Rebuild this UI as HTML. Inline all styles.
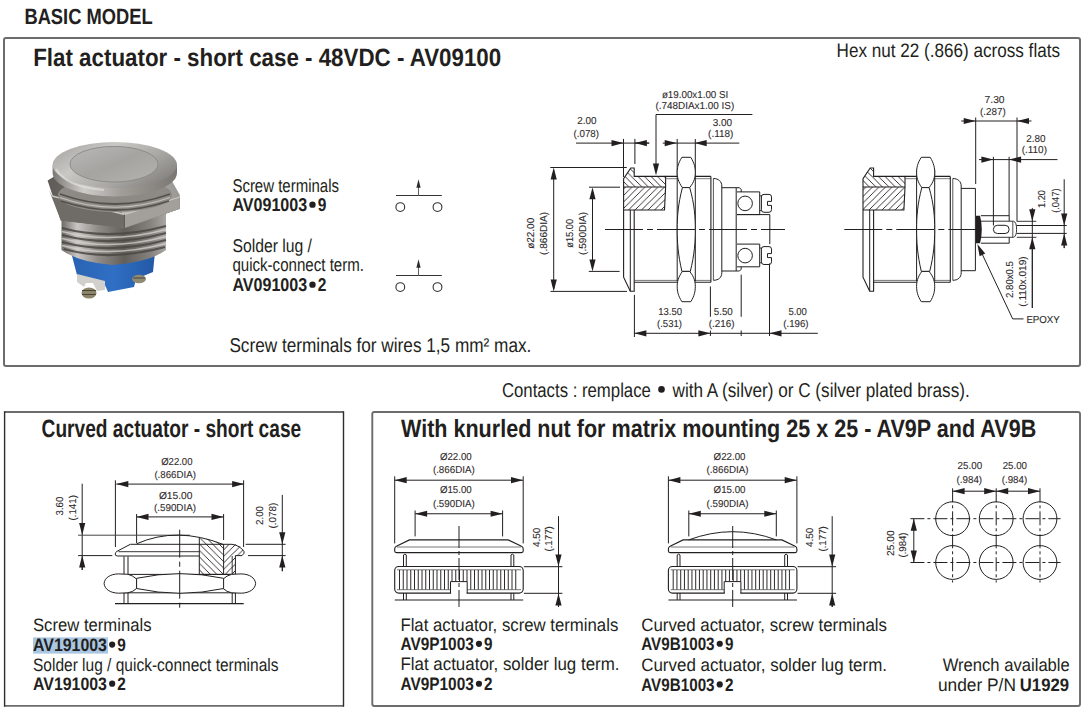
<!DOCTYPE html>
<html><head><meta charset="utf-8">
<style>
html,body{margin:0;padding:0;background:#fff;}
body{width:1084px;height:713px;overflow:hidden;position:relative;}
svg{position:absolute;left:0;top:0;}
text{text-rendering:geometricPrecision;}
.t{font-family:"Liberation Sans",sans-serif;fill:#231f20;}
.d{font-family:"Liberation Sans",sans-serif;fill:#2f2b2c;stroke:#2f2b2c;stroke-width:0.1px;}
</style></head><body>
<svg width="1084" height="713" viewBox="0 0 1084 713">
<defs>
<pattern id="hu" patternUnits="userSpaceOnUse" width="6.5" height="6.5"><path d="M-1,1 L1,-1 M0,6.5 L6.5,0 M5.5,7.5 L7.5,5.5" stroke="#231f20" stroke-width="0.9"/></pattern>
<pattern id="hd" patternUnits="userSpaceOnUse" width="6.5" height="6.5"><path d="M-1,5.5 L1,7.5 M0,0 L6.5,6.5 M5.5,-1 L7.5,1" stroke="#231f20" stroke-width="0.9"/></pattern>
<linearGradient id="metal" x1="0" y1="0" x2="1" y2="0">
<stop offset="0" stop-color="#6f6f6f"/><stop offset="0.25" stop-color="#a9a9a9"/><stop offset="0.5" stop-color="#c9c9c9"/><stop offset="0.75" stop-color="#8d8d8d"/><stop offset="1" stop-color="#6a6a6a"/>
</linearGradient>
<linearGradient id="capg" x1="0" y1="0" x2="1" y2="1">
<stop offset="0" stop-color="#c5c5c5"/><stop offset="0.5" stop-color="#a2a2a2"/><stop offset="1" stop-color="#8a8a8a"/>
</linearGradient>
<linearGradient id="blue" x1="0" y1="0" x2="1" y2="0">
<stop offset="0" stop-color="#2e5f9e"/><stop offset="0.5" stop-color="#3a78c2"/><stop offset="1" stop-color="#2a5794"/>
</linearGradient>
</defs>

<rect x="4" y="38" width="1076" height="328" rx="2" fill="none" stroke="#6d6b6c" stroke-width="2"/>
<path d="M4.6,412 L343.5,412 M4.6,705.9 L343.5,705.9" stroke="#6d6b6c" stroke-width="1.9" fill="none"/>
<path d="M4.6,411.2 L4.6,706.7 M343.5,411.2 L343.5,706.7" stroke="#2e2c2d" stroke-width="1.4" fill="none"/>
<rect x="372.3" y="412" width="707.7" height="294" rx="2" fill="none" stroke="#6d6b6c" stroke-width="1.9"/>
<text class="t" x="24.4" y="23.5" font-size="22" textLength="128.3" lengthAdjust="spacingAndGlyphs" font-weight="bold">BASIC MODEL</text>
<text class="t" x="33.2" y="65.7" font-size="25" textLength="468" lengthAdjust="spacingAndGlyphs" font-weight="bold">Flat actuator - short case - 48VDC - AV09100</text>
<text class="t" x="836.6" y="56.7" font-size="19.5" textLength="223.4" lengthAdjust="spacingAndGlyphs">Hex nut 22 (.866) across flats</text>
<text class="t" x="232.4" y="191.6" font-size="18.5" textLength="106.6" lengthAdjust="spacingAndGlyphs">Screw terminals</text>
<text class="t" x="232.4" y="211.4" font-size="18.5" textLength="74.82" lengthAdjust="spacingAndGlyphs" font-weight="bold">AV091003</text>
<circle cx="312.49" cy="204.65" r="3.18" fill="#231f20"/>
<text class="t" x="317.75" y="211.4" font-size="18.5" textLength="8.65" lengthAdjust="spacingAndGlyphs" font-weight="bold">9</text>
<text class="t" x="232.4" y="251.7" font-size="18.5" textLength="79.6" lengthAdjust="spacingAndGlyphs">Solder lug /</text>
<text class="t" x="232.4" y="271.4" font-size="18.5" textLength="131.6" lengthAdjust="spacingAndGlyphs">quick-connect term.</text>
<text class="t" x="232.4" y="291.4" font-size="18.5" textLength="74.82" lengthAdjust="spacingAndGlyphs" font-weight="bold">AV091003</text>
<circle cx="312.49" cy="284.65" r="3.18" fill="#231f20"/>
<text class="t" x="317.75" y="291.4" font-size="18.5" textLength="8.65" lengthAdjust="spacingAndGlyphs" font-weight="bold">2</text>
<text class="t" x="229.4" y="352.2" font-size="20" textLength="302" lengthAdjust="spacingAndGlyphs">Screw terminals for wires 1,5 mm² max.</text>
<text class="t" x="501.9" y="396.6" font-size="20" textLength="149" lengthAdjust="spacingAndGlyphs">Contacts : remplace</text>
<circle cx="661.5" cy="389.4" r="3.3" fill="#231f20"/>
<text class="t" x="672.5" y="396.6" font-size="20" textLength="297.2" lengthAdjust="spacingAndGlyphs">with A (silver) or C (silver plated brass).</text>
<text class="t" x="41.6" y="436.6" font-size="25" textLength="259.6" lengthAdjust="spacingAndGlyphs" font-weight="bold">Curved actuator - short case</text>
<text class="t" x="401" y="436.7" font-size="25" textLength="635.2" lengthAdjust="spacingAndGlyphs" font-weight="bold">With knurled nut for matrix mounting 25 x 25 - AV9P and AV9B</text>
<rect x="33" y="637.4" width="75" height="16.2" fill="#a9c6e2"/>
<text class="t" x="33" y="631.2" font-size="18" textLength="118.5" lengthAdjust="spacingAndGlyphs">Screw terminals</text>
<text class="t" x="33" y="651.1" font-size="18" textLength="73.95" lengthAdjust="spacingAndGlyphs" font-weight="bold">AV191003</text>
<circle cx="112.15" cy="644.54" r="3.10" fill="#231f20"/>
<text class="t" x="117.35" y="651.1" font-size="18" textLength="8.55" lengthAdjust="spacingAndGlyphs" font-weight="bold">9</text>
<text class="t" x="33" y="671" font-size="18" textLength="245.5" lengthAdjust="spacingAndGlyphs">Solder lug / quick-connect terminals</text>
<text class="t" x="33" y="690.2" font-size="18" textLength="73.95" lengthAdjust="spacingAndGlyphs" font-weight="bold">AV191003</text>
<circle cx="112.15" cy="683.64" r="3.10" fill="#231f20"/>
<text class="t" x="117.35" y="690.2" font-size="18" textLength="8.55" lengthAdjust="spacingAndGlyphs" font-weight="bold">2</text>
<text class="t" x="400.4" y="631.2" font-size="18" textLength="217.9" lengthAdjust="spacingAndGlyphs">Flat actuator, screw terminals</text>
<text class="t" x="400.4" y="650.4" font-size="18" textLength="73.39" lengthAdjust="spacingAndGlyphs" font-weight="bold">AV9P1003</text>
<circle cx="478.95" cy="643.84" r="3.10" fill="#231f20"/>
<text class="t" x="484.12" y="650.4" font-size="18" textLength="8.48" lengthAdjust="spacingAndGlyphs" font-weight="bold">9</text>
<text class="t" x="400.4" y="670.4" font-size="18" textLength="219.1" lengthAdjust="spacingAndGlyphs">Flat actuator, solder lug term.</text>
<text class="t" x="400.4" y="690.3" font-size="18" textLength="73.39" lengthAdjust="spacingAndGlyphs" font-weight="bold">AV9P1003</text>
<circle cx="478.95" cy="683.74" r="3.10" fill="#231f20"/>
<text class="t" x="484.12" y="690.3" font-size="18" textLength="8.48" lengthAdjust="spacingAndGlyphs" font-weight="bold">2</text>
<text class="t" x="641.2" y="631.2" font-size="18" textLength="245.8" lengthAdjust="spacingAndGlyphs">Curved actuator, screw terminals</text>
<text class="t" x="641.2" y="650.3" font-size="18" textLength="73.39" lengthAdjust="spacingAndGlyphs" font-weight="bold">AV9B1003</text>
<circle cx="719.75" cy="643.74" r="3.10" fill="#231f20"/>
<text class="t" x="724.92" y="650.3" font-size="18" textLength="8.48" lengthAdjust="spacingAndGlyphs" font-weight="bold">9</text>
<text class="t" x="641.2" y="671" font-size="18" textLength="245.8" lengthAdjust="spacingAndGlyphs">Curved actuator, solder lug term.</text>
<text class="t" x="641.2" y="691" font-size="18" textLength="73.39" lengthAdjust="spacingAndGlyphs" font-weight="bold">AV9B1003</text>
<circle cx="719.75" cy="684.44" r="3.10" fill="#231f20"/>
<text class="t" x="724.92" y="691" font-size="18" textLength="8.48" lengthAdjust="spacingAndGlyphs" font-weight="bold">2</text>
<text class="t" x="942.7" y="670.9" font-size="18" textLength="127.1" lengthAdjust="spacingAndGlyphs">Wrench available</text>
<text class="t" x="937.9" y="690.9" font-size="18" textLength="78" lengthAdjust="spacingAndGlyphs">under P/N</text>
<text class="t" x="1019.8" y="690.9" font-size="18" textLength="49.2" lengthAdjust="spacingAndGlyphs" font-weight="bold">U1929</text>
<line x1="396" y1="195.5" x2="441.8" y2="195.5" stroke="#333" stroke-width="1.2" />
<line x1="418.5" y1="186" x2="418.5" y2="195.5" stroke="#666" stroke-width="1.1" />
<path d="M418.50,179.30 L420.60,187.80 L416.40,187.80 Z" fill="#2b2b2b"/>
<circle cx="400.3" cy="207.1" r="4.4" fill="none" stroke="#333" stroke-width="1.1"/>
<circle cx="437.5" cy="207.1" r="4.4" fill="none" stroke="#333" stroke-width="1.1"/>
<line x1="396" y1="275.5" x2="441.8" y2="275.5" stroke="#333" stroke-width="1.2" />
<line x1="418.5" y1="266" x2="418.5" y2="275.5" stroke="#666" stroke-width="1.1" />
<path d="M418.50,259.30 L420.60,267.80 L416.40,267.80 Z" fill="#2b2b2b"/>
<circle cx="400.3" cy="287.1" r="4.4" fill="none" stroke="#333" stroke-width="1.1"/>
<circle cx="437.5" cy="287.1" r="4.4" fill="none" stroke="#333" stroke-width="1.1"/>
<path d="M623.6,178.6 L630.8,168 L634.2,168 L634.2,176.4 L665.6,176.4 L665.6,187 L623.6,187 Z" fill="url(#hd)" stroke="none"/>
<path d="M623.6,187 L665.6,187 L664.5,210 L623.6,210 Z" fill="url(#hu)" stroke="none"/>
<path d="M623.6,210 L623.6,178.6 L630.8,168 L634.2,168 L634.2,176.4 L665.6,176.4 L665.6,187 L664.5,210 L623.6,210" stroke="#231f20" stroke-width="1.1" fill="none" />
<line x1="623.6" y1="187" x2="665.6" y2="187" stroke="#231f20" stroke-width="1.0" />
<path d="M623.6,210 L623.6,277.2 L630.3,291.2 L634.2,291.2 L634.2,210" stroke="#231f20" stroke-width="1.1" fill="none" />
<line x1="630.3" y1="210" x2="630.3" y2="291.2" stroke="#231f20" stroke-width="1.0" />
<line x1="665.6" y1="176.4" x2="710.9" y2="176.4" stroke="#231f20" stroke-width="1.1" />
<line x1="665.6" y1="178.7" x2="710.9" y2="178.7" stroke="#555" stroke-width="0.8" />
<line x1="634.2" y1="280.4" x2="710.9" y2="280.4" stroke="#555" stroke-width="0.8" />
<line x1="634.2" y1="282.3" x2="710.9" y2="282.3" stroke="#231f20" stroke-width="1.1" />
<line x1="677.2" y1="139" x2="677.2" y2="281.5" stroke="#231f20" stroke-width="1.0" />
<line x1="695.3" y1="139" x2="695.3" y2="281.5" stroke="#231f20" stroke-width="1.0" />
<path d="M681.9,157.3 L690.8,157.3 C694.5,163.36 695.3,167.905 695.3,172.45 C695.3,176.99499999999998 694.5,181.54 689.7,187.6 L682.4,187.6 C678,181.54 677.2,176.99499999999998 677.2,172.45 C677.2,167.905 678,163.36 681.9,157.3 Z" stroke="#231f20" stroke-width="1.0" fill="#fff" />
<path d="M682.4,187.6 L689.7,187.6 C694.5,204.35999999999999 695.3,216.93 695.3,229.5 C695.3,242.07 694.5,254.64 690.3,271.4 L681.9,271.4 C678,254.64 677.2,242.07 677.2,229.5 C677.2,216.93 678,204.35999999999999 682.4,187.6 Z" stroke="#231f20" stroke-width="1.0" fill="#fff" />
<path d="M682.4,271.4 L689.7,271.4 C694.5,277.46 695.3,282.00499999999994 695.3,286.54999999999995 C695.3,291.09499999999997 694.5,295.64 690.8,301.7 L681.9,301.7 C678,295.64 677.2,291.09499999999997 677.2,286.54999999999995 C677.2,282.00499999999994 678,277.46 682.4,271.4 Z" stroke="#231f20" stroke-width="1.0" fill="#fff" />
<line x1="710.9" y1="176.4" x2="710.9" y2="282.3" stroke="#231f20" stroke-width="1.1" />
<line x1="713.4" y1="178.5" x2="713.4" y2="280.3" stroke="#444" stroke-width="0.9" />
<path d="M713.4,178.5 C718.5,178.5 721.8,181.5 721.8,186 L721.8,272.7 C721.8,277.5 718.5,280.3 713.4,280.3" stroke="#231f20" stroke-width="1.0" fill="none" />
<path d="M863.0,178.6 L870.2,168 L873.6,168 L873.6,176.4 L905.0,176.4 L905.0,187 L863.0,187 Z" fill="url(#hd)" stroke="none"/>
<path d="M863.0,187 L905.0,187 L903.9,210 L863.0,210 Z" fill="url(#hu)" stroke="none"/>
<path d="M863.0,210 L863.0,178.6 L870.2,168 L873.6,168 L873.6,176.4 L905.0,176.4 L905.0,187 L903.9,210 L863.0,210" stroke="#231f20" stroke-width="1.1" fill="none" />
<line x1="863.0" y1="187" x2="905.0" y2="187" stroke="#231f20" stroke-width="1.0" />
<path d="M863.0,210 L863.0,277.2 L869.7,291.2 L873.6,291.2 L873.6,210" stroke="#231f20" stroke-width="1.1" fill="none" />
<line x1="869.7" y1="210" x2="869.7" y2="291.2" stroke="#231f20" stroke-width="1.0" />
<line x1="905.0" y1="176.4" x2="950.3" y2="176.4" stroke="#231f20" stroke-width="1.1" />
<line x1="905.0" y1="178.7" x2="950.3" y2="178.7" stroke="#555" stroke-width="0.8" />
<line x1="873.6" y1="280.4" x2="950.3" y2="280.4" stroke="#555" stroke-width="0.8" />
<line x1="873.6" y1="282.3" x2="950.3" y2="282.3" stroke="#231f20" stroke-width="1.1" />
<line x1="916.6" y1="170" x2="916.6" y2="281.5" stroke="#231f20" stroke-width="1.0" />
<line x1="934.7" y1="170" x2="934.7" y2="281.5" stroke="#231f20" stroke-width="1.0" />
<path d="M921.3,157.3 L930.2,157.3 C933.9,163.36 934.7,167.905 934.7,172.45 C934.7,176.99499999999998 933.9,181.54 929.1,187.6 L921.8,187.6 C917.4,181.54 916.6,176.99499999999998 916.6,172.45 C916.6,167.905 917.4,163.36 921.3,157.3 Z" stroke="#231f20" stroke-width="1.0" fill="#fff" />
<path d="M921.8,187.6 L929.1,187.6 C933.9,204.35999999999999 934.7,216.93 934.7,229.5 C934.7,242.07 933.9,254.64 929.7,271.4 L921.3,271.4 C917.4,254.64 916.6,242.07 916.6,229.5 C916.6,216.93 917.4,204.35999999999999 921.8,187.6 Z" stroke="#231f20" stroke-width="1.0" fill="#fff" />
<path d="M921.8,271.4 L929.1,271.4 C933.9,277.46 934.7,282.00499999999994 934.7,286.54999999999995 C934.7,291.09499999999997 933.9,295.64 930.2,301.7 L921.3,301.7 C917.4,295.64 916.6,291.09499999999997 916.6,286.54999999999995 C916.6,282.00499999999994 917.4,277.46 921.8,271.4 Z" stroke="#231f20" stroke-width="1.0" fill="#fff" />
<line x1="950.3" y1="176.4" x2="950.3" y2="282.3" stroke="#231f20" stroke-width="1.1" />
<line x1="952.8" y1="178.5" x2="952.8" y2="280.3" stroke="#444" stroke-width="0.9" />
<path d="M952.8,178.5 C957.9,178.5 961.2,181.5 961.2,186 L961.2,272.7 C961.2,277.5 957.9,280.3 952.8,280.3" stroke="#231f20" stroke-width="1.0" fill="none" />
<line x1="605" y1="229.5" x2="785" y2="229.5" stroke="#231f20" stroke-width="1" stroke-dasharray="38,4,6,4"/>
<line x1="844.3" y1="229.5" x2="980" y2="229.5" stroke="#231f20" stroke-width="1" stroke-dasharray="38,4,6,4"/>
<path d="M721.8,187.7 L739.5,187.7 L741.2,189.5 L741.2,192 M721.8,271 L739.5,271 L741.2,269.2 L741.2,266.8" stroke="#231f20" stroke-width="1.0" fill="none" />
<line x1="736.2" y1="188" x2="736.2" y2="271" stroke="#231f20" stroke-width="1.0" />
<path d="M737,191.9 L759.7,191.9 L759.7,214.6 L737,214.6" stroke="#231f20" stroke-width="1.0" fill="none" />
<circle cx="745.1" cy="203.4" r="7.3" fill="#fff" stroke="#231f20" stroke-width="1"/>
<path d="M759.7,195.9 L762,195.9 L762,210.6 L759.7,210.6" stroke="#231f20" stroke-width="0.9" fill="none" />
<path d="M764,194.4 Q761.4,194.4 761.4,196.9 L761.4,209.6 Q761.4,212.29999999999998 764,212.29999999999998 L769,212.29999999999998 Q771.5,212.29999999999998 771.5,209.6 L771.5,205.4 L767.5,205.4 L767.5,201.4 L771.5,201.4 L771.5,196.9 Q771.5,194.4 769,194.4 Z" stroke="#231f20" stroke-width="1.0" fill="#fff" />
<path d="M737,244.1 L759.7,244.1 L759.7,266.8 L737,266.8" stroke="#231f20" stroke-width="1.0" fill="none" />
<circle cx="745.1" cy="255.6" r="7.3" fill="#fff" stroke="#231f20" stroke-width="1"/>
<path d="M759.7,248.1 L762,248.1 L762,262.8 L759.7,262.8" stroke="#231f20" stroke-width="0.9" fill="none" />
<path d="M764,246.6 Q761.4,246.6 761.4,249.1 L761.4,261.8 Q761.4,264.5 764,264.5 L769,264.5 Q771.5,264.5 771.5,261.8 L771.5,257.6 L767.5,257.6 L767.5,253.6 L771.5,253.6 L771.5,249.1 Q771.5,246.6 769,246.6 Z" stroke="#231f20" stroke-width="1.0" fill="#fff" />
<path d="M737,214.6 L769.8,214.6 L769.8,244.1" stroke="#231f20" stroke-width="1.0" fill="none" />
<text class="d" x="577.2" y="124" font-size="10.1" textLength="19.3" lengthAdjust="spacingAndGlyphs">2.00</text>
<text class="d" x="573.5" y="137.3" font-size="10.1" textLength="25.5" lengthAdjust="spacingAndGlyphs">(.078)</text>
<line x1="576" y1="143.1" x2="649.2" y2="143.1" stroke="#231f20" stroke-width="1.0" />
<path d="M623.50,143.10 L611.50,146.20 L611.50,140.00 Z" fill="#231f20"/>
<path d="M634.90,143.10 L646.90,140.00 L646.90,146.20 Z" fill="#231f20"/>
<line x1="634.9" y1="143.1" x2="649.2" y2="143.1" stroke="#231f20" stroke-width="1.0" />
<line x1="623.5" y1="138.9" x2="623.5" y2="177" stroke="#231f20" stroke-width="1.0" />
<line x1="634.9" y1="138.9" x2="634.9" y2="164" stroke="#231f20" stroke-width="1.0" />
<text class="d" x="661.9" y="97.7" font-size="10.1" textLength="66.4" lengthAdjust="spacingAndGlyphs">ø19.00x1.00 SI</text>
<text class="d" x="655.5" y="108.6" font-size="10.1" textLength="78.7" lengthAdjust="spacingAndGlyphs">(.748DIAx1.00 IS)</text>
<line x1="656" y1="114.5" x2="752.4" y2="114.5" stroke="#231f20" stroke-width="1.0" />
<line x1="656" y1="114.5" x2="656" y2="166" stroke="#231f20" stroke-width="1.0" />
<path d="M656.00,175.50 L652.90,163.50 L659.10,163.50 Z" fill="#231f20"/>
<text class="d" x="712.7" y="125.8" font-size="10.1" textLength="19.5" lengthAdjust="spacingAndGlyphs">3.00</text>
<text class="d" x="708.1" y="137.2" font-size="10.1" textLength="25.3" lengthAdjust="spacingAndGlyphs">(.118)</text>
<line x1="662.7" y1="143.1" x2="739.3" y2="143.1" stroke="#231f20" stroke-width="1.0" />
<path d="M676.70,143.10 L664.70,146.20 L664.70,140.00 Z" fill="#231f20"/>
<path d="M694.70,143.10 L706.70,140.00 L706.70,146.20 Z" fill="#231f20"/>
<line x1="553.7" y1="170" x2="553.7" y2="289" stroke="#231f20" stroke-width="1.0" />
<path d="M553.70,167.50 L556.80,179.50 L550.60,179.50 Z" fill="#231f20"/>
<path d="M553.70,291.40 L550.60,279.40 L556.80,279.40 Z" fill="#231f20"/>
<line x1="550.3" y1="167.5" x2="626.8" y2="167.5" stroke="#231f20" stroke-width="1.0" />
<line x1="550.5" y1="291.4" x2="627" y2="291.4" stroke="#231f20" stroke-width="1.0" />
<text class="d" x="534.5" y="233.3" font-size="10.1" textLength="31" lengthAdjust="spacingAndGlyphs" text-anchor="middle" transform="rotate(-90 534.5 233.3)">ø22.00</text>
<text class="d" x="547.5" y="233.4" font-size="10.1" textLength="43" lengthAdjust="spacingAndGlyphs" text-anchor="middle" transform="rotate(-90 547.5 233.4)">(.866DIA)</text>
<line x1="592.5" y1="190" x2="592.5" y2="269" stroke="#231f20" stroke-width="1.0" />
<path d="M592.50,187.20 L595.60,199.20 L589.40,199.20 Z" fill="#231f20"/>
<path d="M592.50,271.40 L589.40,259.40 L595.60,259.40 Z" fill="#231f20"/>
<line x1="589" y1="187.2" x2="620" y2="187.2" stroke="#231f20" stroke-width="1.0" />
<line x1="588.8" y1="271.4" x2="619.6" y2="271.4" stroke="#231f20" stroke-width="1.0" />
<text class="d" x="573.5" y="233.3" font-size="10.1" textLength="29" lengthAdjust="spacingAndGlyphs" text-anchor="middle" transform="rotate(-90 573.5 233.3)">ø15.00</text>
<text class="d" x="585.8" y="233.4" font-size="10.1" textLength="43" lengthAdjust="spacingAndGlyphs" text-anchor="middle" transform="rotate(-90 585.8 233.4)">(.590DIA)</text>
<line x1="634.4" y1="294.9" x2="634.4" y2="337" stroke="#231f20" stroke-width="1.0" />
<line x1="710.4" y1="286.5" x2="710.4" y2="316.8" stroke="#231f20" stroke-width="1.0" />
<line x1="710.4" y1="330.6" x2="710.4" y2="336" stroke="#231f20" stroke-width="1.0" />
<line x1="741.2" y1="274.7" x2="741.2" y2="316.8" stroke="#231f20" stroke-width="1.0" />
<line x1="741.2" y1="330.5" x2="741.2" y2="336" stroke="#231f20" stroke-width="1.0" />
<line x1="769.5" y1="263.5" x2="769.5" y2="336" stroke="#231f20" stroke-width="1.0" />
<line x1="634.4" y1="333.3" x2="817.8" y2="333.3" stroke="#231f20" stroke-width="1.0" />
<path d="M634.40,333.30 L646.40,330.20 L646.40,336.40 Z" fill="#231f20"/>
<path d="M710.40,333.30 L698.40,336.40 L698.40,330.20 Z" fill="#231f20"/>
<path d="M769.50,333.30 L781.50,330.20 L781.50,336.40 Z" fill="#231f20"/>
<text class="d" x="658.2" y="314.8" font-size="10.1" textLength="23.8" lengthAdjust="spacingAndGlyphs">13.50</text>
<text class="d" x="657" y="327" font-size="10.1" textLength="25" lengthAdjust="spacingAndGlyphs">(.531)</text>
<text class="d" x="713.8" y="315.1" font-size="10.1" textLength="19" lengthAdjust="spacingAndGlyphs">5.50</text>
<text class="d" x="708.8" y="326.9" font-size="10.1" textLength="25.7" lengthAdjust="spacingAndGlyphs">(.216)</text>
<text class="d" x="788.4" y="315.1" font-size="10.1" textLength="18.5" lengthAdjust="spacingAndGlyphs">5.00</text>
<text class="d" x="783.3" y="326.9" font-size="10.1" textLength="25.3" lengthAdjust="spacingAndGlyphs">(.196)</text>
<path d="M961.2,188.4 L975.4,188.4 L975.4,270.7 L961.2,270.7" stroke="#231f20" stroke-width="1.0" fill="none" />
<line x1="975.7" y1="117.5" x2="975.7" y2="184" stroke="#231f20" stroke-width="1.0" />
<path d="M976,215.7 L980,215.7 Q981.8,222 981.8,229.5 Q981.8,237 980,243.2 L976,243.2 Z" fill="#231f20"/>
<path d="M980.9,215.7 L1009.2,215.7 L1009.2,221.2 M980.9,243.2 L1009.2,243.2 L1009.2,237.3" stroke="#231f20" stroke-width="1.0" fill="none" />
<path d="M980.9,221.2 L1009.2,221.2 L1013.5,221.2 Q1016.6,222 1016.6,229.3 Q1016.6,236.5 1013.5,237.3 L980.9,237.3" stroke="#231f20" stroke-width="0.9" fill="none" />
<line x1="1012.8" y1="221.5" x2="1012.8" y2="237" stroke="#231f20" stroke-width="0.8" />
<rect x="993.4" y="225.3" width="15.7" height="8.2" rx="4" fill="#fff" stroke="#231f20" stroke-width="1"/>
<line x1="1016.6" y1="225.5" x2="1066.7" y2="225.5" stroke="#231f20" stroke-width="1.0" />
<line x1="1016.6" y1="233.4" x2="1066.7" y2="233.4" stroke="#231f20" stroke-width="1.0" />
<line x1="1016.8" y1="221.3" x2="1036.3" y2="221.3" stroke="#231f20" stroke-width="0.9" />
<line x1="1016.8" y1="237.3" x2="1036.3" y2="237.3" stroke="#231f20" stroke-width="0.9" />
<text class="d" x="984.6" y="103.4" font-size="10.1" textLength="20" lengthAdjust="spacingAndGlyphs">7.30</text>
<text class="d" x="980" y="115.1" font-size="10.1" textLength="25.7" lengthAdjust="spacingAndGlyphs">(.287)</text>
<line x1="961.2" y1="121" x2="1031.5" y2="121" stroke="#231f20" stroke-width="1.0" />
<path d="M975.70,121.00 L963.70,124.10 L963.70,117.90 Z" fill="#231f20"/>
<path d="M1017.00,121.00 L1029.00,117.90 L1029.00,124.10 Z" fill="#231f20"/>
<line x1="1017" y1="117.5" x2="1017" y2="221.3" stroke="#231f20" stroke-width="1.0" />
<text class="d" x="1026.3" y="142" font-size="10.1" textLength="19.3" lengthAdjust="spacingAndGlyphs">2.80</text>
<text class="d" x="1021.7" y="153.3" font-size="10.1" textLength="25.3" lengthAdjust="spacingAndGlyphs">(.110)</text>
<line x1="979" y1="159.6" x2="1057.5" y2="159.6" stroke="#231f20" stroke-width="1.0" />
<path d="M993.40,159.60 L981.40,162.70 L981.40,156.50 Z" fill="#231f20"/>
<path d="M1009.10,159.60 L1021.10,156.50 L1021.10,162.70 Z" fill="#231f20"/>
<line x1="993.4" y1="156.8" x2="993.4" y2="225.5" stroke="#231f20" stroke-width="1.0" />
<line x1="1009.1" y1="156.8" x2="1009.1" y2="215.7" stroke="#231f20" stroke-width="1.0" />
<line x1="1032.3" y1="207.9" x2="1032.3" y2="308" stroke="#231f20" stroke-width="1.0" />
<path d="M1032.30,221.20 L1029.20,209.20 L1035.40,209.20 Z" fill="#231f20"/>
<path d="M1032.30,237.30 L1035.40,249.30 L1029.20,249.30 Z" fill="#231f20"/>
<line x1="1032.3" y1="246" x2="1032.3" y2="308" stroke="#231f20" stroke-width="1.0" />
<text class="d" x="1013.3" y="279.5" font-size="10.1" textLength="37" lengthAdjust="spacingAndGlyphs" text-anchor="middle" transform="rotate(-90 1013.3 279.5)">2.80x0.5</text>
<text class="d" x="1026.2" y="281.5" font-size="10.1" textLength="50.5" lengthAdjust="spacingAndGlyphs" text-anchor="middle" transform="rotate(-90 1026.2 281.5)">(.110x.019)</text>
<line x1="1064.2" y1="179.3" x2="1064.2" y2="248.1" stroke="#231f20" stroke-width="1.0" />
<path d="M1064.20,225.50 L1061.10,213.50 L1067.30,213.50 Z" fill="#231f20"/>
<path d="M1064.20,233.40 L1067.30,245.40 L1061.10,245.40 Z" fill="#231f20"/>
<line x1="1064.2" y1="243" x2="1064.2" y2="248.1" stroke="#231f20" stroke-width="1.0" />
<text class="d" x="1044.7" y="199" font-size="10.1" textLength="18" lengthAdjust="spacingAndGlyphs" text-anchor="middle" transform="rotate(-90 1044.7 199)">1.20</text>
<text class="d" x="1059.3" y="200.6" font-size="10.1" textLength="24.5" lengthAdjust="spacingAndGlyphs" text-anchor="middle" transform="rotate(-90 1059.3 200.6)">(.047)</text>
<line x1="980.5" y1="250.5" x2="1012.7" y2="318.9" stroke="#231f20" stroke-width="1.0" />
<path d="M977.30,244.00 L985.21,253.54 L979.59,256.18 Z" fill="#231f20"/>
<line x1="1012.7" y1="318.9" x2="1023.5" y2="318.9" stroke="#231f20" stroke-width="1.0" />
<text class="d" x="1026.4" y="322.8" font-size="10.1" textLength="33.4" lengthAdjust="spacingAndGlyphs">EPOXY</text>
<text class="d" x="161.2" y="465.3" font-size="10.1" textLength="31.3" lengthAdjust="spacingAndGlyphs">Ø22.00</text>
<text class="d" x="154.4" y="478" font-size="10.1" textLength="41.5" lengthAdjust="spacingAndGlyphs">(.866DIA)</text>
<text class="d" x="158.9" y="499.4" font-size="10.1" textLength="33.6" lengthAdjust="spacingAndGlyphs">Ø15.00</text>
<text class="d" x="154" y="511" font-size="10.1" textLength="42" lengthAdjust="spacingAndGlyphs">(.590DIA)</text>
<line x1="116.3" y1="484.1" x2="244.1" y2="484.1" stroke="#231f20" stroke-width="1.0" />
<path d="M116.30,484.10 L128.30,481.00 L128.30,487.20 Z" fill="#231f20"/>
<path d="M244.10,484.10 L232.10,487.20 L232.10,481.00 Z" fill="#231f20"/>
<line x1="115.4" y1="480.3" x2="115.4" y2="547" stroke="#231f20" stroke-width="1.0" />
<line x1="243.6" y1="480.3" x2="243.6" y2="547" stroke="#231f20" stroke-width="1.0" />
<line x1="136.5" y1="516.9" x2="223.5" y2="516.9" stroke="#231f20" stroke-width="1.0" />
<path d="M136.50,516.90 L148.50,513.80 L148.50,520.00 Z" fill="#231f20"/>
<path d="M223.50,516.90 L211.50,520.00 L211.50,513.80 Z" fill="#231f20"/>
<line x1="136.6" y1="514" x2="136.6" y2="543" stroke="#231f20" stroke-width="1.0" />
<line x1="223.6" y1="514" x2="223.6" y2="540" stroke="#231f20" stroke-width="1.0" />
<line x1="82.2" y1="483.7" x2="82.2" y2="570" stroke="#231f20" stroke-width="1.0" />
<path d="M82.20,535.00 L79.10,523.00 L85.30,523.00 Z" fill="#231f20"/>
<path d="M82.20,555.60 L85.30,567.60 L79.10,567.60 Z" fill="#231f20"/>
<line x1="82.2" y1="565" x2="82.2" y2="570" stroke="#231f20" stroke-width="1.0" />
<line x1="78.1" y1="535.2" x2="190" y2="535.2" stroke="#444" stroke-width="1.0" />
<line x1="78.1" y1="555.6" x2="112.3" y2="555.6" stroke="#231f20" stroke-width="1.0" />
<text class="d" x="63.2" y="506" font-size="10.1" textLength="19" lengthAdjust="spacingAndGlyphs" text-anchor="middle" transform="rotate(-90 63.2 506)">3.60</text>
<text class="d" x="75.7" y="507.8" font-size="10.1" textLength="25.5" lengthAdjust="spacingAndGlyphs" text-anchor="middle" transform="rotate(-90 75.7 507.8)">(.141)</text>
<line x1="245.6" y1="544.3" x2="285.6" y2="544.3" stroke="#231f20" stroke-width="1.0" />
<line x1="248" y1="555.6" x2="285.6" y2="555.6" stroke="#231f20" stroke-width="1.0" />
<line x1="282.3" y1="494.9" x2="282.3" y2="571.2" stroke="#231f20" stroke-width="1.0" />
<path d="M282.30,544.30 L279.20,532.30 L285.40,532.30 Z" fill="#231f20"/>
<path d="M282.30,555.60 L285.40,567.60 L279.20,567.60 Z" fill="#231f20"/>
<line x1="282.3" y1="565" x2="282.3" y2="571.2" stroke="#231f20" stroke-width="1.0" />
<text class="d" x="263.1" y="515.5" font-size="10.1" textLength="19" lengthAdjust="spacingAndGlyphs" text-anchor="middle" transform="rotate(-90 263.1 515.5)">2.00</text>
<text class="d" x="276" y="515.6" font-size="10.1" textLength="25.8" lengthAdjust="spacingAndGlyphs" text-anchor="middle" transform="rotate(-90 276 515.6)">(.078)</text>
<path d="M130.3,544.3 L223.6,544.3" stroke="#231f20" stroke-width="1.0" fill="none" />
<path d="M136.6,543.8 Q176.6,526 223.6,544.6" stroke="#231f20" stroke-width="1.0" fill="none" />
<path d="M130.3,544.3 L117,551.3 Q115.2,552.5 115.2,554 Q115.2,556 117.5,556 L199.3,556" stroke="#231f20" stroke-width="1.0" fill="none" />
<line x1="118.5" y1="551.7" x2="199.3" y2="551.7" stroke="#231f20" stroke-width="0.9" />
<path d="M199.3,537.5 Q212,539 223.6,544.6 L223.6,574.4 L199.3,574.4 Z" fill="url(#hd)"/>
<path d="M223.6,544.6 L236,544.3 Q242,546 244,551.5 L242,555.6 L235.4,555.6 L235.4,574.4 L223.6,574.4 Z" fill="url(#hu)"/>
<path d="M199.3,537.5 L199.3,574.4 L235.4,574.4 L235.4,555.6 L242,555.6 Q245,553 244,551.5 Q240,545.5 232,544.3 L223.6,544.3" stroke="#231f20" stroke-width="1.0" fill="none" />
<line x1="223.6" y1="544.3" x2="223.6" y2="574.4" stroke="#231f20" stroke-width="1.0" />
<line x1="232.2" y1="556" x2="232.2" y2="574.4" stroke="#231f20" stroke-width="0.9" />
<line x1="124" y1="556.4" x2="124" y2="574.4" stroke="#231f20" stroke-width="1.0" />
<line x1="124" y1="592.4" x2="124" y2="603.7" stroke="#231f20" stroke-width="1.0" />
<line x1="128" y1="556.4" x2="128" y2="574.4" stroke="#231f20" stroke-width="1.0" />
<line x1="128" y1="592.4" x2="128" y2="603.7" stroke="#231f20" stroke-width="1.0" />
<line x1="232.2" y1="592.4" x2="232.2" y2="603.7" stroke="#231f20" stroke-width="1.0" />
<line x1="235.4" y1="592.4" x2="235.4" y2="603.7" stroke="#231f20" stroke-width="1.0" />
<line x1="128" y1="574.4" x2="232.2" y2="574.4" stroke="#231f20" stroke-width="1.0" />
<line x1="124" y1="592.8" x2="235.4" y2="592.8" stroke="#231f20" stroke-width="1.0" />
<path d="M104.1,583.5 C104.5,578 110,574 118.5,573.9 L128,574.3 Q133,575.5 136.6,579.1 L136.6,588.5 Q133,592 128,592.8 L118.5,593.2 C110,593 104.5,589 104.1,583.5 Z" stroke="#231f20" stroke-width="1.0" fill="#fff" />
<path d="M255.6,583.5 C255.2,578 249.7,574 241.2,573.9 L231.7,574.3 Q226.7,575.5 223.1,579.1 L223.1,588.5 Q226.7,592 231.7,592.8 L241.2,593.2 C249.7,593 255.2,589 255.6,583.5 Z" stroke="#231f20" stroke-width="1.0" fill="#fff" />
<path d="M136.6,578.3 Q180,569 223.6,578.3 L223.6,588.5 Q180,598 136.6,588.5 Z" stroke="#231f20" stroke-width="1.0" fill="#fff" />
<line x1="115" y1="603.7" x2="243.7" y2="603.7" stroke="#231f20" stroke-width="1.2" />
<line x1="179.7" y1="529.7" x2="179.7" y2="610.5" stroke="#231f20" stroke-width="1" stroke-dasharray="28,4,5,4"/>
<text class="d" x="439.9" y="460" font-size="10.1" textLength="31.9" lengthAdjust="spacingAndGlyphs">Ø22.00</text>
<text class="d" x="432.9" y="473.2" font-size="10.1" textLength="41.9" lengthAdjust="spacingAndGlyphs">(.866DIA)</text>
<text class="d" x="439.9" y="492.9" font-size="10.1" textLength="31.9" lengthAdjust="spacingAndGlyphs">Ø15.00</text>
<text class="d" x="432.9" y="507" font-size="10.1" textLength="41.9" lengthAdjust="spacingAndGlyphs">(.590DIA)</text>
<line x1="394.7" y1="480.2" x2="523" y2="480.2" stroke="#231f20" stroke-width="1.0" />
<path d="M394.70,480.20 L406.70,477.10 L406.70,483.30 Z" fill="#231f20"/>
<path d="M523.00,480.20 L511.00,483.30 L511.00,477.10 Z" fill="#231f20"/>
<line x1="394.7" y1="476.3" x2="394.7" y2="543.4" stroke="#231f20" stroke-width="1.0" />
<line x1="523.2" y1="476.3" x2="523.2" y2="543.4" stroke="#231f20" stroke-width="1.0" />
<line x1="415.1" y1="513.75" x2="502.6" y2="513.75" stroke="#231f20" stroke-width="1.0" />
<path d="M415.10,513.75 L427.10,510.65 L427.10,516.85 Z" fill="#231f20"/>
<path d="M502.60,513.75 L490.60,516.85 L490.60,510.65 Z" fill="#231f20"/>
<line x1="415.1" y1="510.5" x2="415.1" y2="536.4" stroke="#231f20" stroke-width="1.0" />
<line x1="502.6" y1="510.5" x2="502.6" y2="536.4" stroke="#231f20" stroke-width="1.0" />
<path d="M409.4,539.9 L508.2,539.9 L521.5,546.3 Q523.2,547 523.2,549 L523.2,551 Q523.2,552.6 521.5,552.6 L396.4,552.6 Q394.7,552.6 394.7,551 L394.7,549 Q394.7,547 396.4,546.3 L409.4,539.9 Z" stroke="#231f20" stroke-width="1.1" fill="none" />
<line x1="397" y1="547" x2="521" y2="547" stroke="#555" stroke-width="0.8" />
<path d="M403.5,566.5 L403.5,555 Q404.9,553.3 406.3,555 L406.3,566.5" stroke="#231f20" stroke-width="1.0" fill="none" />
<line x1="403.5" y1="593" x2="403.5" y2="600" stroke="#231f20" stroke-width="1.0" />
<line x1="406.3" y1="593" x2="406.3" y2="600" stroke="#231f20" stroke-width="1.0" />
<path d="M511,566.5 L511,555 Q512.4,553.3 513.8,555 L513.8,566.5" stroke="#231f20" stroke-width="1.0" fill="none" />
<line x1="511" y1="593" x2="511" y2="600" stroke="#231f20" stroke-width="1.0" />
<line x1="513.8" y1="593" x2="513.8" y2="600" stroke="#231f20" stroke-width="1.0" />
<rect x="394.7" y="566.5" width="128.5" height="26.6" rx="4" fill="#fff" stroke="#231f20" stroke-width="1.1"/>
<line x1="397" y1="569.8" x2="521" y2="569.8" stroke="#555" stroke-width="0.8" />
<path d="M399.50,570 L399.50,589.7 M403.25,570 L403.25,589.7 M407.00,570 L407.00,589.7 M410.75,570 L410.75,589.7 M414.50,570 L414.50,589.7 M418.25,570 L418.25,589.7 M422.00,570 L422.00,589.7 M425.75,570 L425.75,589.7 M429.50,570 L429.50,589.7 M433.25,570 L433.25,589.7 M437.00,570 L437.00,589.7 M440.75,570 L440.75,589.7 M444.50,570 L444.50,589.7 M448.25,570 L448.25,589.7 M452.00,570 L452.00,581.6 M455.75,570 L455.75,581.6 M459.50,570 L459.50,581.6 M463.25,570 L463.25,581.6 M467.00,570 L467.00,581.6 M470.75,570 L470.75,589.7 M474.50,570 L474.50,589.7 M478.25,570 L478.25,589.7 M482.00,570 L482.00,589.7 M485.75,570 L485.75,589.7 M489.50,570 L489.50,589.7 M493.25,570 L493.25,589.7 M497.00,570 L497.00,589.7 M500.75,570 L500.75,589.7 M504.50,570 L504.50,589.7 M508.25,570 L508.25,589.7 M512.00,570 L512.00,589.7 M515.75,570 L515.75,589.7 " stroke="#231f20" stroke-width="0.95" fill="none"/>
<path d="M397,589.7 L450.5,589.7 M467.2,589.7 L521,589.7" stroke="#555" stroke-width="0.8" fill="none" />
<rect x="451.1" y="582.2" width="15.5" height="12.5" fill="#fff"/>
<path d="M450.5,593.1 L450.5,581.6 L467.2,581.6 L467.2,593.1" stroke="#231f20" stroke-width="1.0" fill="none" />
<line x1="394.7" y1="600" x2="523.2" y2="600" stroke="#231f20" stroke-width="1.2" />
<line x1="459" y1="526" x2="459" y2="607" stroke="#231f20" stroke-width="1" stroke-dasharray="22,3,4,3"/>
<line x1="523.9" y1="566.7" x2="562.4" y2="566.7" stroke="#231f20" stroke-width="1.0" />
<line x1="523.9" y1="593.3" x2="562.4" y2="593.3" stroke="#231f20" stroke-width="1.0" />
<line x1="558.5" y1="516.2" x2="558.5" y2="607" stroke="#231f20" stroke-width="1.0" />
<path d="M558.50,566.50 L555.40,554.50 L561.60,554.50 Z" fill="#231f20"/>
<path d="M558.50,593.50 L561.60,605.50 L555.40,605.50 Z" fill="#231f20"/>
<line x1="558.5" y1="600" x2="558.5" y2="607" stroke="#231f20" stroke-width="1.0" />
<text class="d" x="539.7" y="537.3" font-size="10.1" textLength="19.3" lengthAdjust="spacingAndGlyphs" text-anchor="middle" transform="rotate(-90 539.7 537.3)">4.50</text>
<text class="d" x="552" y="538.9" font-size="10.1" textLength="25.4" lengthAdjust="spacingAndGlyphs" text-anchor="middle" transform="rotate(-90 552 538.9)">(.177)</text>
<text class="d" x="713.6" y="460" font-size="10.1" textLength="31.9" lengthAdjust="spacingAndGlyphs">Ø22.00</text>
<text class="d" x="706.6" y="473.2" font-size="10.1" textLength="41.9" lengthAdjust="spacingAndGlyphs">(.866DIA)</text>
<text class="d" x="713.6" y="492.9" font-size="10.1" textLength="31.9" lengthAdjust="spacingAndGlyphs">Ø15.00</text>
<text class="d" x="706.6" y="507" font-size="10.1" textLength="41.9" lengthAdjust="spacingAndGlyphs">(.590DIA)</text>
<line x1="668.4" y1="480.2" x2="796.7" y2="480.2" stroke="#231f20" stroke-width="1.0" />
<path d="M668.40,480.20 L680.40,477.10 L680.40,483.30 Z" fill="#231f20"/>
<path d="M796.70,480.20 L784.70,483.30 L784.70,477.10 Z" fill="#231f20"/>
<line x1="668.4" y1="476.3" x2="668.4" y2="543.4" stroke="#231f20" stroke-width="1.0" />
<line x1="796.9" y1="476.3" x2="796.9" y2="543.4" stroke="#231f20" stroke-width="1.0" />
<line x1="688.8" y1="513.75" x2="776.3" y2="513.75" stroke="#231f20" stroke-width="1.0" />
<path d="M688.80,513.75 L700.80,510.65 L700.80,516.85 Z" fill="#231f20"/>
<path d="M776.30,513.75 L764.30,516.85 L764.30,510.65 Z" fill="#231f20"/>
<line x1="688.8" y1="510.5" x2="688.8" y2="536.4" stroke="#231f20" stroke-width="1.0" />
<line x1="776.3" y1="510.5" x2="776.3" y2="536.4" stroke="#231f20" stroke-width="1.0" />
<path d="M683.1,539.9 L781.9,539.9 L795.2,546.3 Q796.9,547 796.9,549 L796.9,551 Q796.9,552.6 795.2,552.6 L670.1,552.6 Q668.4,552.6 668.4,551 L668.4,549 Q668.4,547 670.1,546.3 L683.1,539.9 Z" stroke="#231f20" stroke-width="1.1" fill="none" />
<line x1="670.7" y1="547" x2="794.7" y2="547" stroke="#555" stroke-width="0.8" />
<path d="M688.7,539.9 Q732.7,523.5 776.3,539.9" stroke="#231f20" stroke-width="1.0" fill="none" />
<path d="M677.2,566.5 L677.2,555 Q678.6,553.3 680.0,555 L680.0,566.5" stroke="#231f20" stroke-width="1.0" fill="none" />
<line x1="677.2" y1="593" x2="677.2" y2="600" stroke="#231f20" stroke-width="1.0" />
<line x1="680.0" y1="593" x2="680.0" y2="600" stroke="#231f20" stroke-width="1.0" />
<path d="M784.7,566.5 L784.7,555 Q786.1,553.3 787.5,555 L787.5,566.5" stroke="#231f20" stroke-width="1.0" fill="none" />
<line x1="784.7" y1="593" x2="784.7" y2="600" stroke="#231f20" stroke-width="1.0" />
<line x1="787.5" y1="593" x2="787.5" y2="600" stroke="#231f20" stroke-width="1.0" />
<rect x="668.4" y="566.5" width="128.5" height="26.6" rx="4" fill="#fff" stroke="#231f20" stroke-width="1.1"/>
<line x1="670.7" y1="569.8" x2="794.7" y2="569.8" stroke="#555" stroke-width="0.8" />
<path d="M673.20,570 L673.20,589.7 M676.95,570 L676.95,589.7 M680.70,570 L680.70,589.7 M684.45,570 L684.45,589.7 M688.20,570 L688.20,589.7 M691.95,570 L691.95,589.7 M695.70,570 L695.70,589.7 M699.45,570 L699.45,589.7 M703.20,570 L703.20,589.7 M706.95,570 L706.95,589.7 M710.70,570 L710.70,589.7 M714.45,570 L714.45,589.7 M718.20,570 L718.20,589.7 M721.95,570 L721.95,589.7 M725.70,570 L725.70,581.6 M729.45,570 L729.45,581.6 M733.20,570 L733.20,581.6 M736.95,570 L736.95,581.6 M740.70,570 L740.70,581.6 M744.45,570 L744.45,589.7 M748.20,570 L748.20,589.7 M751.95,570 L751.95,589.7 M755.70,570 L755.70,589.7 M759.45,570 L759.45,589.7 M763.20,570 L763.20,589.7 M766.95,570 L766.95,589.7 M770.70,570 L770.70,589.7 M774.45,570 L774.45,589.7 M778.20,570 L778.20,589.7 M781.95,570 L781.95,589.7 M785.70,570 L785.70,589.7 M789.45,570 L789.45,589.7 " stroke="#231f20" stroke-width="0.95" fill="none"/>
<path d="M670.7,589.7 L724.2,589.7 M740.9,589.7 L794.7,589.7" stroke="#555" stroke-width="0.8" fill="none" />
<rect x="724.8" y="582.2" width="15.5" height="12.5" fill="#fff"/>
<path d="M724.2,593.1 L724.2,581.6 L740.9,581.6 L740.9,593.1" stroke="#231f20" stroke-width="1.0" fill="none" />
<line x1="668.4" y1="600" x2="796.9" y2="600" stroke="#231f20" stroke-width="1.2" />
<line x1="732.7" y1="526" x2="732.7" y2="607" stroke="#231f20" stroke-width="1" stroke-dasharray="22,3,4,3"/>
<line x1="797.6" y1="566.7" x2="836.1" y2="566.7" stroke="#231f20" stroke-width="1.0" />
<line x1="797.6" y1="593.3" x2="836.1" y2="593.3" stroke="#231f20" stroke-width="1.0" />
<line x1="832.2" y1="516.2" x2="832.2" y2="607" stroke="#231f20" stroke-width="1.0" />
<path d="M832.20,566.50 L829.10,554.50 L835.30,554.50 Z" fill="#231f20"/>
<path d="M832.20,593.50 L835.30,605.50 L829.10,605.50 Z" fill="#231f20"/>
<line x1="832.2" y1="600" x2="832.2" y2="607" stroke="#231f20" stroke-width="1.0" />
<text class="d" x="813.4" y="537.3" font-size="10.1" textLength="19.3" lengthAdjust="spacingAndGlyphs" text-anchor="middle" transform="rotate(-90 813.4 537.3)">4.50</text>
<text class="d" x="825.7" y="538.9" font-size="10.1" textLength="25.4" lengthAdjust="spacingAndGlyphs" text-anchor="middle" transform="rotate(-90 825.7 538.9)">(.177)</text>
<circle cx="952.6" cy="518.7" r="16.9" fill="none" stroke="#231f20" stroke-width="1.0"/>
<circle cx="996.2" cy="518.7" r="16.9" fill="none" stroke="#231f20" stroke-width="1.0"/>
<circle cx="1040" cy="518.7" r="16.9" fill="none" stroke="#231f20" stroke-width="1.0"/>
<circle cx="952.6" cy="562.5" r="16.9" fill="none" stroke="#231f20" stroke-width="1.0"/>
<circle cx="996.2" cy="562.5" r="16.9" fill="none" stroke="#231f20" stroke-width="1.0"/>
<circle cx="1040" cy="562.5" r="16.9" fill="none" stroke="#231f20" stroke-width="1.0"/>
<line x1="910.4" y1="518.7" x2="1060.6" y2="518.7" stroke="#231f20" stroke-width="1" stroke-dasharray="14,3,3,3"/>
<line x1="910.4" y1="562.5" x2="1060.6" y2="562.5" stroke="#231f20" stroke-width="1" stroke-dasharray="14,3,3,3"/>
<line x1="952.6" y1="488.3" x2="952.6" y2="582.5" stroke="#231f20" stroke-width="1" stroke-dasharray="14,3,3,3"/>
<line x1="996.2" y1="488.3" x2="996.2" y2="582.5" stroke="#231f20" stroke-width="1" stroke-dasharray="14,3,3,3"/>
<line x1="1040" y1="488.3" x2="1040" y2="582.5" stroke="#231f20" stroke-width="1" stroke-dasharray="14,3,3,3"/>
<line x1="952.6" y1="491.2" x2="1040" y2="491.2" stroke="#231f20" stroke-width="1.0" />
<path d="M952.60,491.20 L964.60,488.10 L964.60,494.30 Z" fill="#231f20"/>
<path d="M996.20,491.20 L984.20,494.30 L984.20,488.10 Z" fill="#231f20"/>
<path d="M996.20,491.20 L1008.20,488.10 L1008.20,494.30 Z" fill="#231f20"/>
<path d="M1040.00,491.20 L1028.00,494.30 L1028.00,488.10 Z" fill="#231f20"/>
<text class="d" x="957.6" y="469" font-size="10.1" textLength="24.5" lengthAdjust="spacingAndGlyphs">25.00</text>
<text class="d" x="956.6" y="483.4" font-size="10.1" textLength="25.5" lengthAdjust="spacingAndGlyphs">(.984)</text>
<text class="d" x="1002.7" y="469" font-size="10.1" textLength="24.2" lengthAdjust="spacingAndGlyphs">25.00</text>
<text class="d" x="1001.7" y="483.4" font-size="10.1" textLength="25.5" lengthAdjust="spacingAndGlyphs">(.984)</text>
<line x1="913.8" y1="518.7" x2="913.8" y2="562.5" stroke="#231f20" stroke-width="1.0" />
<path d="M913.80,518.70 L916.90,530.70 L910.70,530.70 Z" fill="#231f20"/>
<path d="M913.80,562.50 L910.70,550.50 L916.90,550.50 Z" fill="#231f20"/>
<text class="d" x="894" y="543.2" font-size="10.1" textLength="25.5" lengthAdjust="spacingAndGlyphs" text-anchor="middle" transform="rotate(-90 894 543.2)">25.00</text>
<text class="d" x="905.8" y="545" font-size="10.1" textLength="25.1" lengthAdjust="spacingAndGlyphs" text-anchor="middle" transform="rotate(-90 905.8 545)">(.984)</text>
<g id="photo">
<defs>
<linearGradient id="thr" x1="0" y1="0" x2="1" y2="0">
<stop offset="0" stop-color="#6d6a66"/><stop offset="0.15" stop-color="#c9c7c4"/><stop offset="0.35" stop-color="#8f8c87"/><stop offset="0.6" stop-color="#625f5b"/><stop offset="0.85" stop-color="#85827e"/><stop offset="1" stop-color="#a9a7a4"/>
</linearGradient>
<linearGradient id="nutg" x1="0" y1="0" x2="1" y2="0">
<stop offset="0" stop-color="#5f5c58"/><stop offset="0.55" stop-color="#7d7a75"/><stop offset="0.57" stop-color="#bdbbb8"/><stop offset="1" stop-color="#9a9894"/>
</linearGradient>
<linearGradient id="capside" x1="0" y1="0" x2="1" y2="0">
<stop offset="0" stop-color="#7c7975"/><stop offset="0.25" stop-color="#cfcdca"/><stop offset="0.55" stop-color="#a19e9a"/><stop offset="1" stop-color="#7a7773"/>
</linearGradient>
<linearGradient id="captop" x1="0" y1="0.2" x2="1" y2="0.8">
<stop offset="0" stop-color="#a9a7a3"/><stop offset="0.3" stop-color="#cac8c5"/><stop offset="0.65" stop-color="#aaa8a5"/><stop offset="1" stop-color="#7f7d7a"/>
</linearGradient>
<linearGradient id="face" x1="0" y1="0" x2="1" y2="1">
<stop offset="0" stop-color="#b9b8b6"/><stop offset="0.5" stop-color="#a6a4a1"/><stop offset="1" stop-color="#b5b3b0"/>
</linearGradient>
<linearGradient id="bl" x1="0" y1="0" x2="1" y2="0">
<stop offset="0" stop-color="#2a62b2"/><stop offset="0.5" stop-color="#2f6fc4"/><stop offset="1" stop-color="#2459a6"/>
</linearGradient>
</defs>
<path d="M71,252 L155,252 L153,272 L136,279 L134,287 L108,292 L104,283 L77,275 Z" fill="url(#bl)"/>
<path d="M77,274 L105,281 L105,290 L97,291 L93,283 L86,283 L84,287 L77,282 Z" fill="#d2d0cc"/>
<ellipse cx="89" cy="293" rx="7.5" ry="5.5" fill="#8b8468"/>
<path d="M82,290.5 L96,290.5 M82,294.5 L96,294.5" stroke="#4a4538" stroke-width="1.1"/>
<ellipse cx="139" cy="279" rx="7" ry="4.2" fill="#8e8a74"/>
<path d="M133,278 L145,278" stroke="#4a4538" stroke-width="1"/>
<path d="M61.5,205 L166,205 L166,250 Q150,262 112,265 Q78,262 61.5,250 Z" fill="url(#thr)"/>
<g fill="none" stroke="#4b4844" stroke-width="2.2" opacity="0.85">
<path d="M62,228 Q110,241 166,226"/>
<path d="M62,235 Q110,248 166,233"/>
<path d="M62,242 Q110,255 166,240"/>
<path d="M64,249 Q110,262 165,247"/>
</g>
<g fill="none" stroke="#d6d4d0" stroke-width="1.4" opacity="0.75">
<path d="M62,231.5 Q110,244.5 166,229.5"/>
<path d="M62,238.5 Q110,251.5 166,236.5"/>
<path d="M62,245.5 Q110,258.5 166,243.5"/>
</g>
<path d="M47.6,180.4 L60,173 L172,181 L179.8,194.9 L179.8,208.7 L124.4,228.1 L60.8,220.5 Z" fill="url(#nutg)"/>
<path d="M49,190 L60.8,220.5 L124.4,228.1 L179.8,208.7 L179.8,197 L124.4,214.5 L52,196 Z" fill="#6f6c67"/><path d="M124.4,214.5 L179.8,197 L179.8,208.7 L124.4,228.1 Z" fill="#a3a09c"/>
<path d="M52,196 L124.4,214.5 L179.8,197" fill="none" stroke="#c9c7c3" stroke-width="1.3"/>
<path d="M124.4,214.5 L124.4,228.1" stroke="#5a5753" stroke-width="1"/>
<ellipse cx="115" cy="195" rx="57" ry="17" fill="#8d8a86"/>
<g fill="none" stroke="#4b4844" stroke-width="1.8" opacity="0.85">
<path d="M60,194 Q115,214 170,194"/>
<path d="M61,201 Q115,219 169,201"/>
</g>
<g fill="none" stroke="#d0ceca" stroke-width="1.2" opacity="0.8">
<path d="M60,197.5 Q115,217 170,197.5"/>
</g>
<path d="M52.6,165 L52.6,173 A62.2,23.5 0 0 0 177,173 L177,165 Z" fill="url(#capside)"/>
<ellipse cx="114.8" cy="165" rx="62.2" ry="23" fill="url(#captop)"/>
<ellipse cx="114" cy="164.2" rx="44" ry="17.8" fill="url(#face)" stroke="#8a8884" stroke-width="0.9"/>
<path d="M56,169 Q66,187 104,190" fill="none" stroke="#e0dfdc" stroke-width="2.2" opacity="0.7"/>
</g>
</svg>
</body></html>
